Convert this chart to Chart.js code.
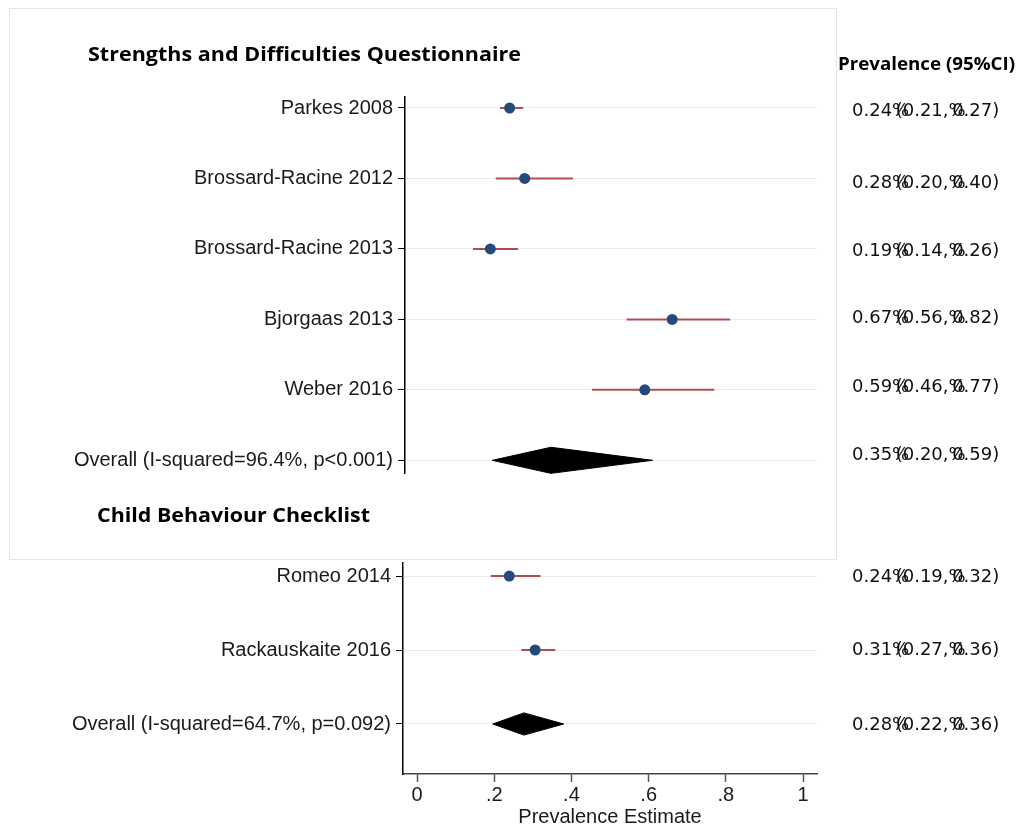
<!DOCTYPE html>
<html>
<head>
<meta charset="utf-8">
<title>Prevalence forest plot</title>
<script src="https://cdn.jsdelivr.net/npm/chart.js@4.4.0/dist/chart.umd.min.js"></script>
<style>
  html, body { margin: 0; padding: 0; background: #fff; }
  #wrap { position: relative; width: 1019px; height: 827px; overflow: hidden; }
  #box {
    position: absolute; left: 9px; top: 8px; width: 828px; height: 552px;
    border: 1.5px solid #e3e9ea; box-sizing: border-box;
  }
  canvas { position: absolute; left: 0; }
  #sdqChart { top: 0; }
  #cbclChart { top: 540px; }
  .title {
    position: absolute; font-family: "Open Sans"; font-weight: 700; color: #000;
    white-space: nowrap; line-height: 1; transform-origin: left center;
  }
  .prev {
    position: absolute; left: 852px; font-family: "DejaVu Sans"; font-size: 18px;
    line-height: 1; white-space: nowrap; color: #111; transform: translateY(-50%);
  }
  .pc { margin-right: -13.5px; }
</style>
</head>
<body>
<div id="wrap">
  <div id="box"></div>
  <canvas id="sdqChart" width="1019" height="560"></canvas>
  <canvas id="cbclChart" width="1019" height="287"></canvas>
</div>
<script>
// Strengths and Difficulties Questionnaire
const sdqLabels = ["Parkes 2008", "Brossard-Racine 2012", "Brossard-Racine 2013",
                   "Bjorgaas 2013", "Weber 2016", "Overall (I-squared=96.4%, p<0.001)"];
const sdqEst  = [0.240, 0.279, 0.190, 0.661, 0.590];
const sdqLow  = [0.215, 0.204, 0.145, 0.543, 0.453];
const sdqHigh = [0.275, 0.404, 0.262, 0.811, 0.770];
const sdqPooled = [0.195, 0.347, 0.610];   // low, estimate, high of the diamond

// Child Behaviour Checklist
const cbclLabels = ["Romeo 2014", "Rackauskaite 2016", "Overall (I-squared=64.7%, p=0.092)"];
const cbclEst  = [0.239, 0.306];
const cbclLow  = [0.191, 0.270];
const cbclHigh = [0.320, 0.358];
const cbclPooled = [0.196, 0.277, 0.380];

// printed column "Prevalence (95%CI)"
const sdqTxtEst  = ["0.24", "0.28", "0.19", "0.67", "0.59", "0.35"];
const sdqTxtLow  = ["0.21", "0.20", "0.14", "0.56", "0.46", "0.20"];
const sdqTxtHigh = ["0.27", "0.40", "0.26", "0.82", "0.77", "0.59"];
const cbclTxtEst  = ["0.24", "0.31", "0.28"];
const cbclTxtLow  = ["0.19", "0.27", "0.22"];
const cbclTxtHigh = ["0.32", "0.36", "0.36"];

const xTicks = [0, 0.2, 0.4, 0.6, 0.8, 1];
const xTickLabels = ["0", ".2", ".4", ".6", ".8", "1"];

// layout bits (pixels)
const sdqTextY  = [110, 182, 250, 317, 386, 454];
const cbclTextY = [576, 649, 724];

const LABEL_FONT = { family: "Liberation Sans", size: 20 };

function buildDatasets(est, low, high, pooled, halfH) {
  const row = est.length;
  const ds = est.map((_, i) => ({
    type: "scatter",
    showLine: true,
    data: [{ x: low[i], y: i }, { x: high[i], y: i }],
    borderColor: "#b24c54",
    borderWidth: 2,
    pointRadius: 0,
    order: 2,
  }));
  ds.push({
    type: "scatter",
    data: est.map((v, i) => ({ x: v, y: i })),
    pointRadius: 5.5,
    backgroundColor: "#24497b",
    borderWidth: 0,
    order: 1,
  });
  // pooled estimate drawn as a filled diamond
  ds.push({
    type: "scatter",
    showLine: true,
    fill: "shape",
    clip: false,
    data: [
      { x: pooled[0], y: row },
      { x: pooled[1], y: row - halfH },
      { x: pooled[2], y: row },
      { x: pooled[1], y: row + halfH },
      { x: pooled[0], y: row },
    ],
    borderColor: "#000",
    backgroundColor: "#000",
    borderWidth: 1,
    pointRadius: 0,
    order: 3,
  });
  return ds;
}

function yScale(labels, min, max, axisWidth) {
  return {
    type: "linear", min, max, reverse: true,
    afterBuildTicks: s => { s.ticks = labels.map((_, i) => ({ value: i })); },
    afterFit: s => { s.width = axisWidth; },
    ticks: {
      callback: v => labels[v],
      color: "#1a1a1a", font: LABEL_FONT, padding: 5, autoSkip: false,
    },
    grid: { color: "#e8eef0", lineWidth: 1, tickLength: 7, tickColor: "#000", tickWidth: 1 },
    border: { display: true, color: "#000", width: 1.5 },
  };
}

function baseOptions(padding, scales) {
  return {
    responsive: false,
    animation: false,
    events: [],
    layout: { padding },
    plugins: { legend: { display: false }, tooltip: { enabled: false } },
    scales,
  };
}

function renderSdq() {
  const ctx = document.getElementById("sdqChart").getContext("2d");
  return new Chart(ctx, {
    type: "scatter",
    data: { datasets: buildDatasets(sdqEst, sdqLow, sdqHigh, sdqPooled, 0.185) },
    options: baseOptions({ top: 97, bottom: 87, left: 0, right: 202 }, {
      x: { type: "linear", display: false, min: -0.031, max: 1.036 },
      y: yScale(sdqLabels, -0.156, 5.18, 405),
    }),
  });
}

function renderCbcl() {
  const ctx = document.getElementById("cbclChart").getContext("2d");
  return new Chart(ctx, {
    type: "scatter",
    data: { datasets: buildDatasets(cbclEst, cbclLow, cbclHigh, cbclPooled, 0.15) },
    options: baseOptions({ top: 23, bottom: 0, left: 0, right: 202 }, {
      x: {
        type: "linear", min: -0.0363, max: 1.036,
        afterBuildTicks: s => { s.ticks = xTicks.map(v => ({ value: v })); },
        afterFit: s => { s.height = 53; },
        ticks: {
          callback: v => xTickLabels[xTicks.indexOf(v)],
          color: "#1a1a1a", font: LABEL_FONT, padding: 1, maxRotation: 0, autoSkip: false,
        },
        grid: { drawOnChartArea: false, tickLength: 8, tickColor: "#555", tickWidth: 1.5 },
        border: { display: true, color: "#444", width: 1.5 },
        title: {
          display: true, text: "Prevalence Estimate", color: "#1a1a1a", font: LABEL_FONT,
          padding: { top: 0, bottom: -2 },
        },
      },
      y: yScale(cbclLabels, -0.176, 2.676, 403),
    }),
  });
}

// bold headings, squeezed to the width they take in the picture
function addTitle(text, left, cy, size, width) {
  const el = document.createElement("div");
  el.className = "title";
  el.textContent = text;
  el.style.left = left + "px";
  el.style.top = cy + "px";
  el.style.fontSize = size + "px";
  document.getElementById("wrap").appendChild(el);
  const w = el.getBoundingClientRect().width;
  el.style.transform = `translateY(-50%) scaleX(${width / w})`;
}

function addPrevColumn(est, low, high, ys) {
  const wrap = document.getElementById("wrap");
  est.forEach((e, i) => {
    const el = document.createElement("div");
    el.className = "prev";
    el.style.top = ys[i] + "px";
    el.innerHTML = `${e}<span class="pc">%</span>(${low[i]},<span class="pc">%</span>${high[i]})`;
    wrap.appendChild(el);
  });
}

document.addEventListener("DOMContentLoaded", () => {
  renderSdq();
  renderCbcl();
  addTitle("Strengths and Difficulties Questionnaire", 88, 54, 20, 433);
  addTitle("Child Behaviour Checklist", 97, 515, 20, 273);
  addTitle("Prevalence (95%CI)", 838, 63, 17, 177);
  addPrevColumn(sdqTxtEst, sdqTxtLow, sdqTxtHigh, sdqTextY);
  addPrevColumn(cbclTxtEst, cbclTxtLow, cbclTxtHigh, cbclTextY);
});
</script>
</body>
</html>
